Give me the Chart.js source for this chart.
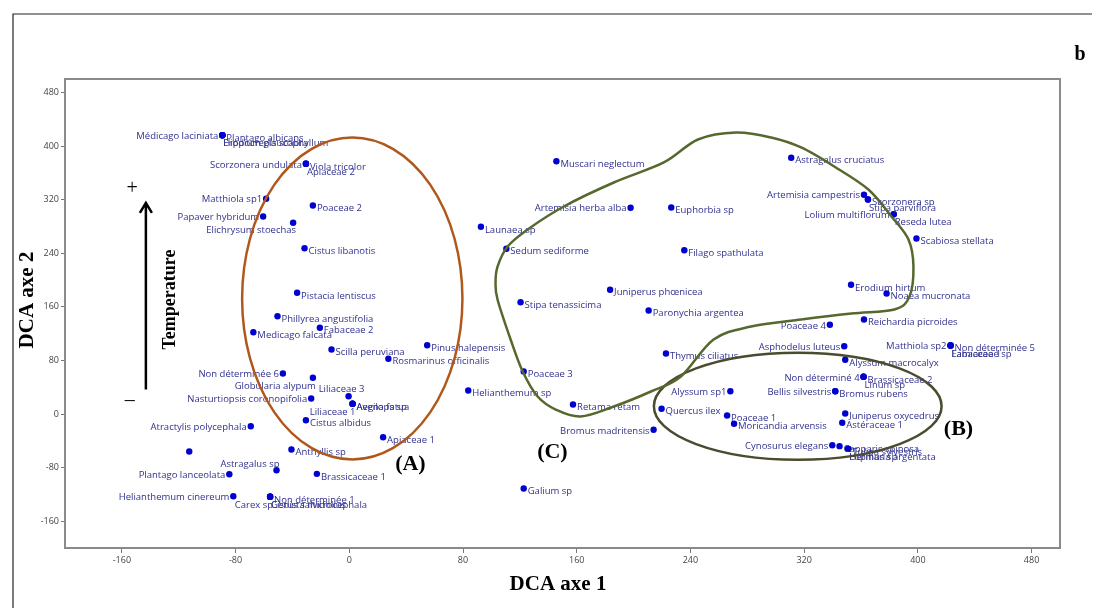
<!DOCTYPE html>
<html>
<head>
<meta charset="utf-8">
<script src="https://cdn.jsdelivr.net/npm/chart.js@4"></script>
<style>
  html, body { margin: 0; padding: 0; background: #fff; }
  #wrap { width: 1103px; height: 608px; }
</style>
</head>
<body>
<div id="wrap"><canvas id="chart" width="1103" height="608"></canvas></div>
<script>
// species scores on the two DCA axes
const species = [
  'Médicago laciniata', 'Plantago albicans', 'Erodium glaucophyllum', 'Hippocrepis scabra',
  'Scorzonera undulata', 'Viola tricolor', 'Apiaceae 2', 'Matthiola sp1', 'Papaver hybridum',
  'Elichrysum stoechas', 'Poaceae 2', 'Cistus libanotis', 'Pistacia lentiscus',
  'Phillyrea angustifolia', 'Fabaceae 2', 'Medicago falcata', 'Scilla peruviana',
  'Non déterminée 6', 'Globularia alypum', 'Liliaceae 3', 'Nasturtiopsis coronopifolia',
  'Avena fatua', 'Aegilops sp', 'Liliaceae 1', 'Cistus albidus', 'Atractylis polycephala', '',
  'Anthyllis sp', 'Astragalus sp', 'Plantago lanceolata', 'Brassicaceae 1',
  'Helianthemum cinereum', 'Non déterminée 1', 'Carex sp', 'Genista microcephala', 'Cistus salviifolius',
  'Muscari neglectum', 'Artemisia herba alba', 'Euphorbia sp', 'Launaea sp', 'Sedum sediforme',
  'Filago spathulata', 'Juniperus phœnicea', 'Stipa tenassicima', 'Paronychia argentea',
  'Pinus halepensis', 'Rosmarinus officinalis', 'Poaceae 3', 'Helianthemum sp', 'Retama retam',
  'Bromus madritensis', 'Apiaceae 1', 'Galium sp', 'Thymus ciliatus', 'Quercus ilex', 'Alyssum sp1',
  'Astragalus cruciatus', 'Artemisia campestris', 'Scorzonera sp', 'Stipa parviflora',
  'Lolium multiflorum', 'Reseda lutea', 'Scabiosa stellata', 'Erodium hirtum', 'Noaea mucronata',
  'Reichardia picroides', 'Poaceae 4', 'Asphodelus luteus', 'Alyssum macrocalyx', 'Matthiola sp2',
  'Non déterminée 5', 'Lamiaceae sp', 'Fabaceae 1', 'Non déterminé 4', 'Brassicaceae 2', 'Linum sp',
  'Bellis silvestris', 'Bromus rubens', 'Juniperus oxycedrus', 'Astéraceae 1', 'Poaceae 1',
  'Moricandia arvensis', 'Cynosurus elegans', 'Capparis spinosa', 'Tulipa sylvestris', 'Lupinus sp',
  'Herniaria argentata'
];
const axe1 = [
  -89.3, -89.3, -89.3, -89.3,
  -30.5, -30.5, -30.5, -58.5, -60.6,
  -39.5, -25.6, -31.5, -36.7,
  -50.5, -20.7, -67.5, -12.5,
  -46.7, -25.6, -0.5, -26.8,
  2.3, 2.3, 2.3, -30.5, -69.3, -112.6,
  -40.7, -51.2, -84.4, -22.8,
  -81.6, -55.7, -55.7, -55.7, -55.7,
  145.7, 197.9, 226.5, 92.6, 110.5,
  235.7, 183.5, 120.5, 210.6,
  54.8, 27.5, 122.7, 83.7, 157.4,
  214.1, 23.8, 122.7, 222.8, 219.7, 268.1,
  310.9, 362.1, 364.9, 364.9,
  383, 383, 399, 353, 378,
  362.1, 338.1, 348.2, 348.9, 423,
  423, 423, 423, 361.8, 361.8, 361.8,
  341.9, 341.9, 348.9, 346.8, 265.8,
  270.7, 339.8, 344.9, 351, 351,
  351
];
const axe2 = [
  416.1, 416.1, 416.1, 416.1,
  373.4, 373.4, 373.4, 321.2, 294.8,
  285.4, 311.2, 247.5, 180.9,
  146, 128.7, 122.1, 96.3,
  60.4, 54, 26.6, 23.1,
  15.2, 15.2, 15.2, -9.3, -18.2, -56,
  -53, -83.9, -89.9, -89.3,
  -122.7, -123.6, -123.6, -123.6, -123.6,
  377.3, 307.8, 308.2, 279.4, 246.6,
  244.5, 185.4, 166.9, 154.5,
  102.7, 82.4, 63.4, 35.1, 14.2,
  -23.6, -34.6, -111.2, 90.3, 7.8, 34,
  382.4, 327.2, 320.1, 320.1,
  298.2, 298.2, 261.9, 192.8, 179.9,
  141, 133.1, 101.2, 80.9, 102.2,
  102.2, 102.2, 102.2, 55.5, 55.5, 55.5,
  34, 34, 0.7, -13.1, -2.2,
  -14.6, -46.6, -48, -52, -52,
  -52
];
const xTicks = [-160, -80, 0, 80, 160, 240, 320, 400, 480];
const yTicks = [-160, -80, 0, 80, 160, 240, 320, 400, 480];

// where a label sits relative to its point (default: right)
const labelSide = {
  'Médicago laciniata': 'l', 'Erodium glaucophyllum': 'br', 'Hippocrepis scabra': 'br',
  'Scorzonera undulata': 'l', 'Apiaceae 2': 'br', 'Matthiola sp1': 'l', 'Papaver hybridum': 'l',
  'Elichrysum stoechas': 'bl', 'Non déterminée 6': 'l', 'Globularia alypum': 'bl', 'Liliaceae 3': 't',
  'Nasturtiopsis coronopifolia': 'l', 'Liliaceae 1': 'bl', 'Atractylis polycephala': 'l',
  'Astragalus sp': 'tl', 'Plantago lanceolata': 'l', 'Helianthemum cinereum': 'l', 'Carex sp': 'bl',
  'Genista microcephala': 'br', 'Cistus salviifolius': 'br', 'Artemisia herba alba': 'l',
  'Bromus madritensis': 'l', 'Alyssum sp1': 'l', 'Artemisia campestris': 'l', 'Stipa parviflora': 'br',
  'Lolium multiflorum': 'l', 'Reseda lutea': 'br', 'Poaceae 4': 'l', 'Asphodelus luteus': 'l',
  'Matthiola sp2': 'l', 'Lamiaceae sp': 'br', 'Fabaceae 1': 'br', 'Non déterminé 4': 'l',
  'Linum sp': 'br', 'Bellis silvestris': 'l', 'Cynosurus elegans': 'l', 'Lupinus sp': 'br',
  'Herniaria argentata': 'br'
};

// group outlines, in axis units
const groupA = { cx: 2.1, cy: 172.4, rx: 77.5, ry: 240.3 };
const groupB = { cx: 315.5, cy: 11.6, rx: 101.2, ry: 79.9 };
const groupC = [
  [256.3, 111.2], [282.7, 130.6], [317.9, 141.0], [353.2, 149.9], [383.5, 155.9], [394.1, 175.4],
  [396.9, 220.1], [393.4, 260.4], [381.4, 294.8], [365.2, 335.1], [341.2, 369.4], [317.9, 397.8],
  [296.8, 412.7], [272.1, 420.1], [245.3, 409.7], [221.3, 375.4], [186.1, 345.5], [150.9, 309.7],
  [125.5, 275.4], [111.4, 250.0], [104.3, 220.1], [102.9, 196.3], [104.3, 170.9], [113.5, 111.2],
  [122.0, 63.4], [132.5, 26.1], [145.2, 6.7], [162.8, -3.7], [186.1, 11.2], [212.2, 33.6], [233.3, 56.0]
];

const overlay = {
  id: 'overlay',
  afterDatasetsDraw(chart) {
    const { ctx, chartArea: a, scales: { x, y } } = chart;
    const px = v => x.getPixelForValue(v);
    const py = v => y.getPixelForValue(v);

    ctx.save();
    // outer frame of the figure
    ctx.strokeStyle = '#222';
    ctx.lineWidth = 1.2;
    ctx.beginPath();
    ctx.moveTo(13, 608); ctx.lineTo(13, 14); ctx.lineTo(1092, 14);
    ctx.stroke();

    // plot box
    ctx.strokeStyle = '#8a8a8a';
    ctx.lineWidth = 2;
    ctx.strokeRect(a.left, a.top, a.right - a.left, a.bottom - a.top);

    // point labels
    ctx.font = '9.5px "Open Sans"';
    ctx.fillStyle = '#30308f';
    ctx.textBaseline = 'middle';
    species.forEach((name, i) => {
      if (!name) return;
      const X = px(axe1[i]), Y = py(axe2[i]);
      const side = labelSide[name] || 'r';
      if (side === 'r') { ctx.textAlign = 'left'; ctx.fillText(name, X + 4, Y + 3); }
      else if (side === 'l') { ctx.textAlign = 'right'; ctx.fillText(name, X - 4, Y + 1); }
      else if (side === 'br') { ctx.textAlign = 'left'; ctx.fillText(name, X + 1, Y + 8.5); }
      else if (side === 'bl') { ctx.textAlign = 'right'; ctx.fillText(name, X + 3, Y + 8); }
      else if (side === 'tl') { ctx.textAlign = 'right'; ctx.fillText(name, X + 3, Y - 5.5); }
      else { ctx.textAlign = 'center'; ctx.fillText(name, X - 7, Y - 7); }
    });

    // group A and B ellipses
    ctx.lineWidth = 2.5;
    [[groupA, '#b0581c'], [groupB, '#4b4b30']].forEach(([g, col]) => {
      ctx.strokeStyle = col;
      ctx.beginPath();
      ctx.ellipse(px(g.cx), py(g.cy), Math.abs(px(g.cx + g.rx) - px(g.cx)),
        Math.abs(py(g.cy + g.ry) - py(g.cy)), 0, 0, Math.PI * 2);
      ctx.stroke();
    });

    // group C, closed smooth curve through the outline points
    const pts = groupC.map(p => [px(p[0]), py(p[1])]);
    const n = pts.length;
    ctx.strokeStyle = '#56682e';
    ctx.beginPath();
    ctx.moveTo(pts[0][0], pts[0][1]);
    for (let i = 0; i < n; i++) {
      const p0 = pts[(i - 1 + n) % n], p1 = pts[i], p2 = pts[(i + 1) % n], p3 = pts[(i + 2) % n];
      ctx.bezierCurveTo(
        p1[0] + (p2[0] - p0[0]) / 6, p1[1] + (p2[1] - p0[1]) / 6,
        p2[0] - (p3[0] - p1[0]) / 6, p2[1] - (p3[1] - p1[1]) / 6,
        p2[0], p2[1]);
    }
    ctx.stroke();

    // temperature arrow
    ctx.strokeStyle = '#000';
    ctx.lineWidth = 2.5;
    const ax = px(-143.1), ay0 = py(36.6), ay1 = py(315.2);
    ctx.beginPath();
    ctx.moveTo(ax, ay0); ctx.lineTo(ax, ay1);
    ctx.moveTo(ax - 6, ay1 + 10); ctx.lineTo(ax, ay1); ctx.lineTo(ax + 6, ay1 + 10);
    ctx.stroke();

    ctx.fillStyle = '#000';
    ctx.textAlign = 'center';
    ctx.font = '20px "Liberation Serif"';
    ctx.fillText('+', px(-152.8), py(336.1));
    ctx.fillText('\u2013', px(-154.4), py(19.1));

    ctx.font = 'bold 18px "Liberation Serif"';
    ctx.save();
    ctx.translate(px(-126.2), py(170.9));
    ctx.rotate(-Math.PI / 2);
    ctx.fillText('Temperature', 0, 0);
    ctx.restore();

    ctx.font = 'bold 22px "Liberation Serif"';
    ctx.fillText('(A)', px(43), py(-75.4));
    ctx.fillText('(B)', px(428.6), py(-23.1));
    ctx.fillText('(C)', px(142.9), py(-57.9));

    // panel letter and axis titles
    ctx.font = 'bold 20px "Liberation Serif"';
    ctx.fillText('b', 1080, 55);
    ctx.font = 'bold 21px "Liberation Serif"';
    ctx.fillText('DCA axe 1', 558, 585);
    ctx.save();
    ctx.translate(28, 300);
    ctx.rotate(-Math.PI / 2);
    ctx.fillText('DCA axe 2', 0, 0);
    ctx.restore();
    ctx.restore();
  }
};

const tickFont = { family: '"Open Sans"', size: 9 };

new Chart(document.getElementById('chart'), {
  type: 'scatter',
  data: {
    datasets: [{
      data: axe1.map((v, i) => ({ x: v, y: axe2[i] })),
      backgroundColor: '#0000d0',
      borderWidth: 0,
      pointRadius: 3.2,
      pointHoverRadius: 3.2
    }]
  },
  options: {
    responsive: false,
    animation: false,
    events: [],
    layout: { padding: { left: 14, top: 79, right: 43, bottom: 0 } },
    plugins: { legend: { display: false }, tooltip: { enabled: false } },
    scales: {
      x: {
        type: 'linear', min: -200, max: 500,
        afterBuildTicks: s => { s.ticks = xTicks.map(v => ({ value: v })); },
        afterFit: s => { s.height = 60; },
        grid: { drawOnChartArea: false, drawTicks: true, tickLength: 5, color: '#777' },
        border: { display: false },
        ticks: { font: tickFont, color: '#444', padding: 2, maxRotation: 0 }
      },
      y: {
        type: 'linear', min: -200, max: 500,
        afterBuildTicks: s => { s.ticks = yTicks.map(v => ({ value: v })); },
        afterFit: s => { s.width = 51; },
        grid: { drawOnChartArea: false, drawTicks: true, tickLength: 4, color: '#777' },
        border: { display: false },
        ticks: { font: tickFont, color: '#444', padding: 2 }
      }
    }
  },
  plugins: [overlay]
});
</script>
</body>
</html>
